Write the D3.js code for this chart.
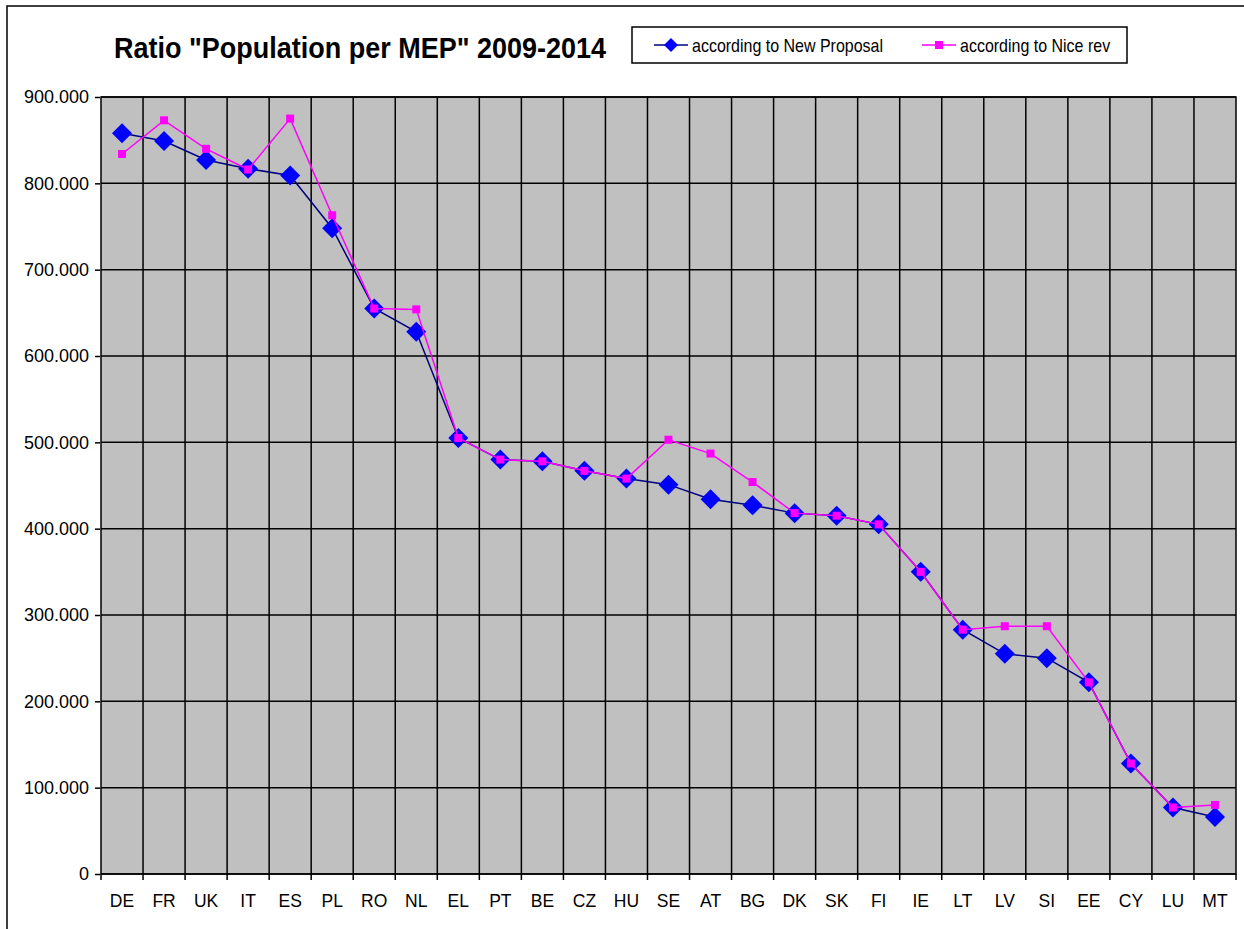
<!DOCTYPE html>
<html lang="en">

<head>
    <meta charset="UTF-8">
    <title>Ratio Population per MEP</title>
    <script src="https://d3js.org/d3.v7.min.js"></script>
    <style>
        body { margin: 0; background: #fff; }
        text { font-family: Arial, "Liberation Sans", sans-serif; fill: #000; }
    </style>
</head>

<body>
    <svg id="chart" width="1244" height="929"></svg>

    <script>
        // data
        var countries = ["DE", "FR", "UK", "IT", "ES", "PL", "RO", "NL", "EL", "PT", "BE", "CZ", "HU", "SE",
            "AT", "BG", "DK", "SK", "FI", "IE", "LT", "LV", "SI", "EE", "CY", "LU", "MT"];
        var newProposal = [858000, 849000, 827000, 817000, 809000, 748000, 655000, 628000, 505000, 480000, 478000,
            467000, 458000, 451000, 434000, 427000, 418000, 415000, 405000, 350000, 283000, 255000, 250000, 222000,
            128000, 77000, 66000];
        var niceRev = [834000, 873000, 840000, 816000, 875000, 763000, 655000, 654000, 505000, 480000, 478000,
            467000, 458000, 503000, 487000, 454000, 418000, 415000, 405000, 350000, 283000, 287000, 287000, 222000,
            128000, 77000, 80000];
        var yTicks = [0, 100000, 200000, 300000, 400000, 500000, 600000, 700000, 800000, 900000];

        var svg = d3.select("#chart");
        var plot = { left: 101, right: 1236, top: 97, bottom: 874 };

        // outer frame
        svg.append("rect")
            .attr("x", 7).attr("y", 6)
            .attr("width", 1250).attr("height", 940)
            .attr("fill", "none").attr("stroke", "#000").attr("stroke-width", 1.5);

        var x = d3.scaleBand().domain(countries).range([plot.left, plot.right]);
        var y = d3.scaleLinear().domain([0, 900000]).range([plot.bottom, plot.top]);

        var de = d3.formatLocale({ decimal: ",", thousands: ".", grouping: [3], currency: ["", "€"] });
        var fmt = de.format(",");

        // plot background
        svg.append("rect")
            .attr("x", plot.left).attr("y", plot.top)
            .attr("width", plot.right - plot.left).attr("height", plot.bottom - plot.top)
            .attr("fill", "#c0c0c0");

        // grid
        svg.append("g").selectAll("line")
            .data(yTicks)
            .enter().append("line")
            .attr("x1", plot.left).attr("x2", plot.right)
            .attr("y1", function (d) { return y(d); }).attr("y2", function (d) { return y(d); })
            .attr("stroke", "#000").attr("stroke-width", 1.5);

        svg.append("g").selectAll("line")
            .data(countries.slice(1))
            .enter().append("line")
            .attr("x1", function (d) { return x(d); }).attr("x2", function (d) { return x(d); })
            .attr("y1", plot.top).attr("y2", plot.bottom)
            .attr("stroke", "#000").attr("stroke-width", 1.5);

        svg.append("rect")
            .attr("x", plot.left).attr("y", plot.top)
            .attr("width", plot.right - plot.left).attr("height", plot.bottom - plot.top)
            .attr("fill", "none").attr("stroke", "#000").attr("stroke-width", 1.5);

        // y axis
        var yAxis = d3.axisLeft(y).tickValues(yTicks).tickSize(5).tickPadding(6)
            .tickFormat(function (d) { return fmt(d); });
        var gy = svg.append("g").attr("transform", "translate(" + (plot.left - 1) + ",0)").call(yAxis);
        gy.select(".domain").remove();
        gy.selectAll("line").attr("stroke", "#000").attr("stroke-width", 1.5);
        gy.selectAll("text").attr("font-size", "18px").attr("font-family", "Arial, 'Liberation Sans', sans-serif");

        // x axis: ticks at category boundaries
        var xAxis = d3.axisBottom(x).tickSize(0).tickPadding(21);
        var gx = svg.append("g").attr("transform", "translate(0," + plot.bottom + ")").call(xAxis);
        gx.select(".domain").remove();
        gx.selectAll("text").attr("font-size", "17.5px").attr("font-family", "Arial, 'Liberation Sans', sans-serif");
        svg.append("g").selectAll("line")
            .data(countries.concat(["end"]))
            .enter().append("line")
            .attr("x1", function (d, i) { return plot.left + i * x.bandwidth(); })
            .attr("x2", function (d, i) { return plot.left + i * x.bandwidth(); })
            .attr("y1", plot.bottom).attr("y2", plot.bottom + 6)
            .attr("stroke", "#000").attr("stroke-width", 1.5);

        var cx = function (d, i) { return x(countries[i]) + x.bandwidth() / 2; };
        var line = d3.line().x(cx).y(function (d) { return y(d); });

        // new proposal series
        svg.append("path").datum(newProposal)
            .attr("d", line).attr("fill", "none")
            .attr("stroke", "#000080").attr("stroke-width", 1.5);
        svg.append("g").selectAll("path")
            .data(newProposal)
            .enter().append("path")
            .attr("d", "M0,-10L10,0L0,10L-10,0Z")
            .attr("transform", function (d, i) { return "translate(" + cx(d, i) + "," + y(d) + ")"; })
            .attr("fill", "#0000ff");

        // nice rev series
        svg.append("path").datum(niceRev)
            .attr("d", line).attr("fill", "none")
            .attr("stroke", "#ff00ff").attr("stroke-width", 1.5);
        svg.append("g").selectAll("rect")
            .data(niceRev)
            .enter().append("rect")
            .attr("x", function (d, i) { return cx(d, i) - 4; })
            .attr("y", function (d) { return y(d) - 4; })
            .attr("width", 8).attr("height", 8)
            .attr("fill", "#ff00ff");

        // title
        svg.append("text")
            .attr("transform", "translate(360,58) scale(1,1.1)")
            .attr("text-anchor", "middle")
            .attr("font-size", "27px").attr("font-weight", "bold")
            .text('Ratio "Population per MEP" 2009-2014');

        // legend
        var lg = svg.append("g");
        lg.append("rect")
            .attr("x", 632).attr("y", 27).attr("width", 495).attr("height", 36)
            .attr("fill", "#fff").attr("stroke", "#000").attr("stroke-width", 1.5);

        var e1 = lg.append("g").attr("transform", "translate(654,45)");
        e1.append("line").attr("x1", 0).attr("x2", 34).attr("stroke", "#000080").attr("stroke-width", 1.5);
        e1.append("path").attr("d", "M17,-7L24,0L17,7L10,0Z").attr("fill", "#0000ff");
        e1.append("text").attr("transform", "translate(38,6.5) scale(1,1.2)").attr("font-size", "16px")
            .text("according to New Proposal");

        var e2 = lg.append("g").attr("transform", "translate(922,45)");
        e2.append("line").attr("x1", 0).attr("x2", 34).attr("stroke", "#ff00ff").attr("stroke-width", 1.5);
        e2.append("rect").attr("x", 13).attr("y", -4).attr("width", 8).attr("height", 8).attr("fill", "#ff00ff");
        e2.append("text").attr("transform", "translate(38,6.5) scale(1,1.2)").attr("font-size", "16px")
            .text("according to Nice rev");
    </script>
</body>

</html>
